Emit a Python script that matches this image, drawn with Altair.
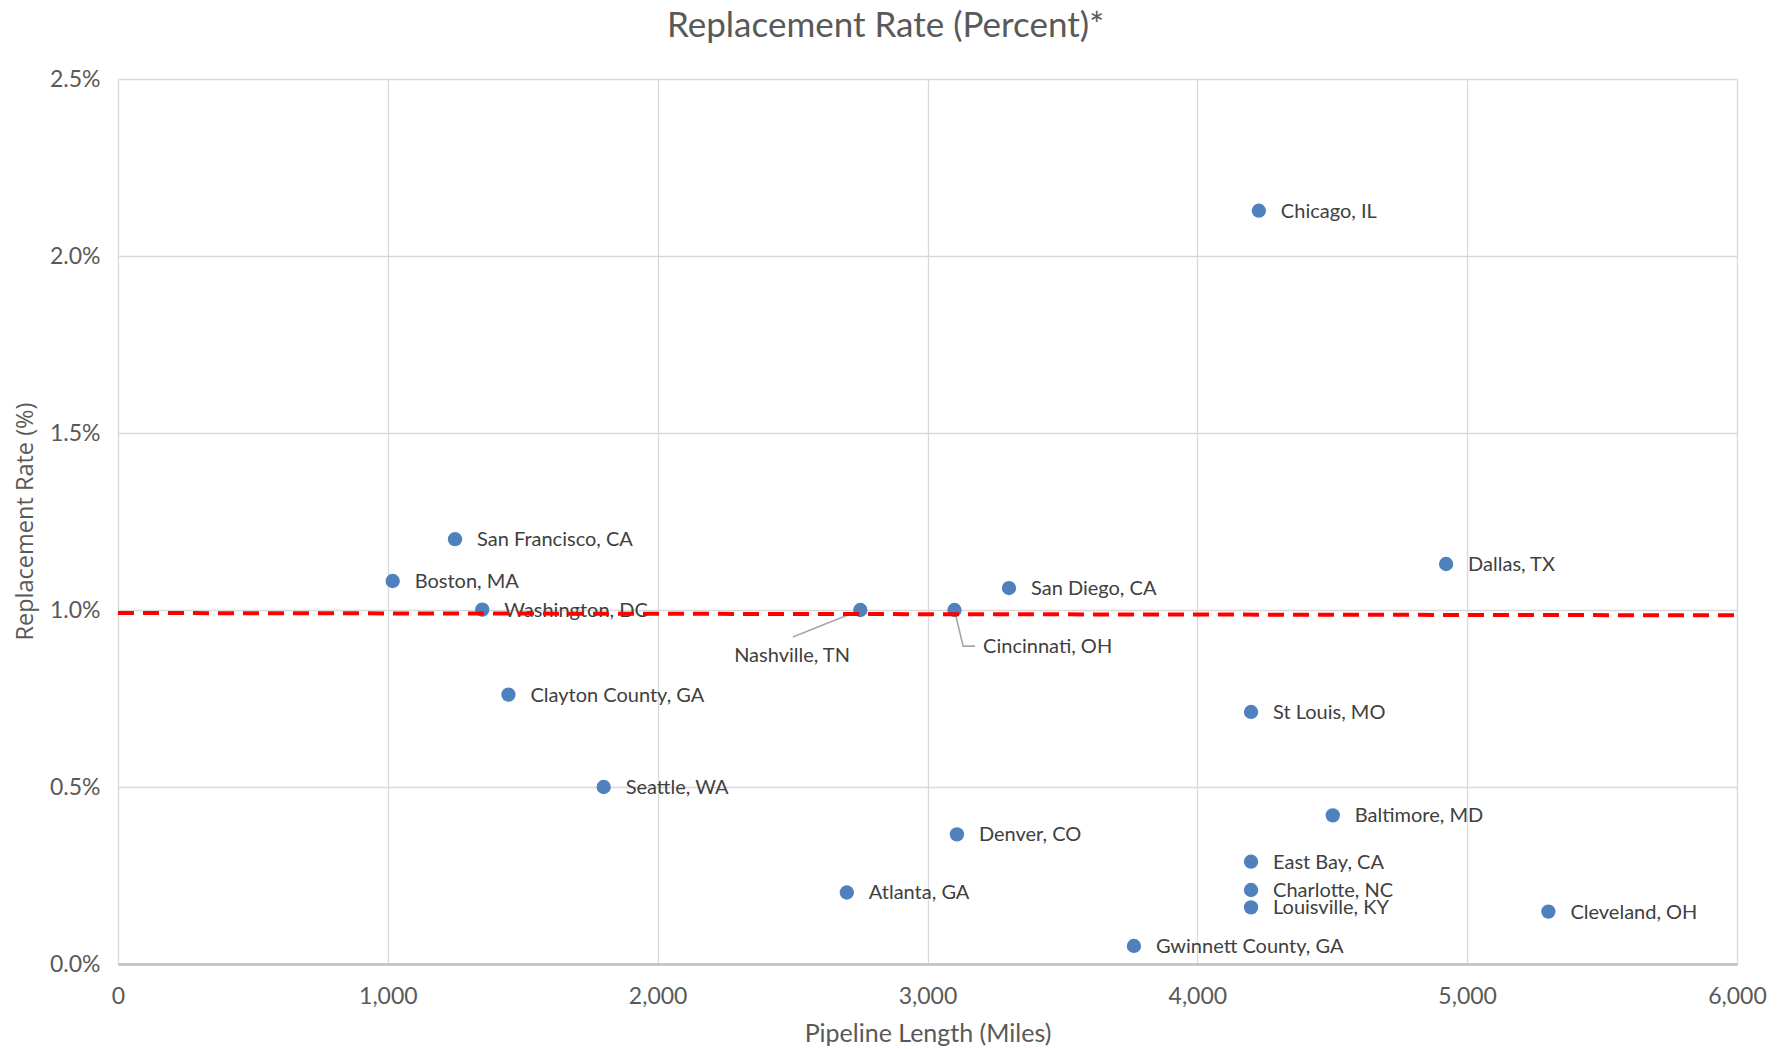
import altair as alt
import pandas as pd

# ---- data ----
cities = ["Chicago, IL", "San Francisco, CA", "Boston, MA", "Washington, DC",
          "Nashville, TN", "Cincinnati, OH", "San Diego, CA", "Dallas, TX",
          "Clayton County, GA", "St Louis, MO", "Seattle, WA", "Baltimore, MD",
          "Denver, CO", "East Bay, CA", "Atlanta, GA", "Charlotte, NC",
          "Louisville, KY", "Cleveland, OH", "Gwinnett County, GA"]
miles = [4228, 1249, 1018, 1350, 2751, 3100, 3302, 4922, 1447, 4199, 1800,
         4502, 3109, 4199, 2701, 4199, 4199, 5301, 3765]
rates = [2.128, 1.200, 1.082, 1.001, 1.000, 1.000, 1.062, 1.130, 0.761, 0.712,
         0.500, 0.420, 0.366, 0.289, 0.202, 0.209, 0.160, 0.148, 0.051]

# dashed reference line
trend_miles = [0, 6000]
trend_rates = [0.9915, 0.985]

# callout labels (label anchor positions in data units) and their leader lines
callout_names = ["Nashville, TN", "Cincinnati, OH"]
callout_miles = [2498, 3206]
callout_rates = [0.870, 0.895]
callout_align = ["center", "left"]
leader_group = ["nash", "nash", "cin", "cin", "cin"]
leader_order = [0, 1, 0, 1, 2]
leader_miles = [2751, 2501, 3100, 3132, 3176]
leader_rates = [1.000, 0.924, 1.000, 0.898, 0.898]

x_ticks = [0, 1000, 2000, 3000, 4000, 5000, 6000]
y_ticks = [0.0, 0.5, 1.0, 1.5, 2.0, 2.5]

FONT = "Lato"
GREY = "#595959"
DARK = "#404040"

pts = pd.DataFrame({"city": cities, "miles": miles, "rate": rates})
plain = pts[~pts["city"].isin(callout_names)]
trend = pd.DataFrame({"miles": trend_miles, "rate": trend_rates})
callouts = pd.DataFrame({"city": callout_names, "miles": callout_miles,
                         "rate": callout_rates, "align": callout_align})
leaders = pd.DataFrame({"g": leader_group, "o": leader_order,
                        "miles": leader_miles, "rate": leader_rates})

xscale = alt.Scale(domain=[0, 6000], nice=False, zero=False)
yscale = alt.Scale(domain=[0, 2.5], nice=False)

xaxis = alt.Axis(values=x_ticks, labelExpr="format(datum.value, ',.0f')", grid=True,
                 gridColor="#d9d9d9", gridWidth=1.3, domain=True, domainColor="#bfbfbf",
                 domainWidth=2.5, ticks=False, labelPadding=21, labelFontSize=23,
                 labelFlush=False, labelColor=GREY, labelFont=FONT,
                 title="Pipeline Length (Miles)", titleFont=FONT, titleFontSize=25,
                 titleFontWeight="normal", titleColor=GREY, titleY=69,
                 titleBaseline="middle")
yaxis = alt.Axis(values=y_ticks, labelExpr="format(datum.value, '.1f') + '%'",
                 grid=True, gridColor="#d9d9d9", gridWidth=1.3, domain=False,
                 ticks=False, labelPadding=18, labelFontSize=23, labelColor=GREY,
                 labelFont=FONT, title="Replacement Rate (%)", titleFont="Open Sans",
                 titleFontSize=23.5, titleFontWeight="normal", titleColor=GREY,
                 titleX=-93, titleY=442, titleBaseline="middle")

base_x = alt.X("miles:Q", scale=xscale, axis=xaxis)
base_y = alt.Y("rate:Q", scale=yscale, axis=yaxis)

points = alt.Chart(pts).mark_point(filled=True, opacity=1, size=205,
                                   color="#4e81bd", shape="circle").encode(
    x=base_x, y=base_y)

labels = alt.Chart(plain).mark_text(align="left", baseline="middle", dx=22, dy=1,
                                    font=FONT, fontSize=20, color=DARK).encode(
    x=alt.X("miles:Q", scale=xscale), y=alt.Y("rate:Q", scale=yscale), text="city:N")

call_center = alt.Chart(callouts[callouts["align"] == "center"]).mark_text(
    align="center", baseline="middle", font=FONT, fontSize=20, color=DARK).encode(
    x=alt.X("miles:Q", scale=xscale), y=alt.Y("rate:Q", scale=yscale), text="city:N")
call_left = alt.Chart(callouts[callouts["align"] == "left"]).mark_text(
    align="left", baseline="middle", font=FONT, fontSize=20, color=DARK).encode(
    x=alt.X("miles:Q", scale=xscale), y=alt.Y("rate:Q", scale=yscale), text="city:N")

leader_lines = alt.Chart(leaders).mark_line(color="#a6a6a6", strokeWidth=1.6).encode(
    x=alt.X("miles:Q", scale=xscale), y=alt.Y("rate:Q", scale=yscale),
    detail="g:N", order="o:Q")

trend_line = alt.Chart(trend).mark_line(color="#ff0000", strokeWidth=4,
                                        strokeDash=[16, 9]).encode(
    x=alt.X("miles:Q", scale=xscale), y=alt.Y("rate:Q", scale=yscale))

chart = alt.layer(leader_lines, points, labels, call_center, call_left, trend_line).properties(
    width=1619, height=885,
    title=alt.Title("Replacement Rate (Percent)*", font=FONT, fontSize=35,
                    fontWeight="normal", color=GREY, anchor="middle", frame="group",
                    offset=24, dx=-42),
    autosize=alt.AutoSizeParams(type="none"),
    padding={"left": 110, "top": 71, "right": 35, "bottom": 85},
).configure_view(strokeWidth=0).configure(background="white")

chart.save("out.html", embed_options={"renderer": "svg", "actions": False})
